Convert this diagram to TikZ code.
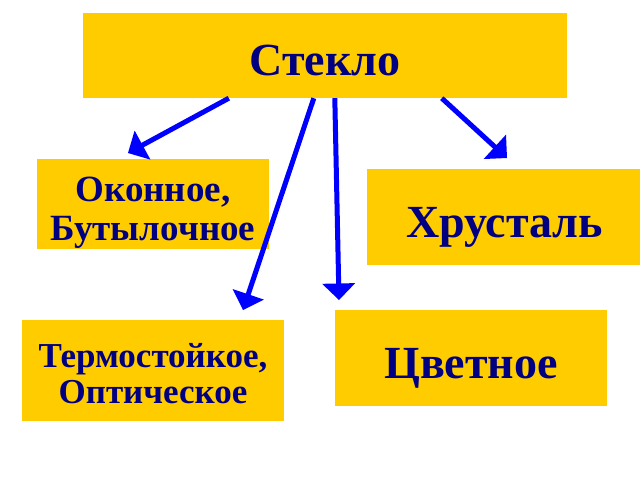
\documentclass[tikz,border=0pt]{standalone}
\usepackage{fontspec}
\setmainfont{Liberation Serif}
\usetikzlibrary{arrows}
\definecolor{gold}{RGB}{255,204,0}
\definecolor{ink}{RGB}{0,0,128}

\begin{document}
\begin{tikzpicture}[x=1pt,y=-1pt,
  box/.style={fill=gold,text=ink,align=center,inner sep=0pt,text depth=0pt},
  big/.style={font=\bfseries\fontsize{46}{50}\selectfont,text height=40pt},
  arr/.style={-triangle 90,blue,line width=5pt}]
\useasboundingbox[fill=white] (0,0) rectangle (640,480);
\node[box,big,minimum width=484pt,minimum height=85pt] (glass) at (325,55.5) {Стекло};
\node[box,font=\bfseries\fontsize{37}{39}\selectfont,text height=72pt,minimum width=232pt,minimum height=90pt] (window) at (153,204) {Оконное,\\Бутылочное};
\node[box,big,minimum width=275pt,minimum height=96pt] (crystal) at (504.5,217) {Хрусталь};
\node[box,font=\bfseries\fontsize{35}{36}\selectfont,text height=65pt,minimum width=262pt,minimum height=101pt] (heat) at (153,370.5) {Термостойкое,\\Оптическое};
\node[box,big,minimum width=272pt,minimum height=96pt] (colour) at (471,358) {Цветное};
\coordinate (tipwin) at (128,153);
\coordinate (tipheat) at (243,310);
\coordinate (tipcol) at (339,300);
\coordinate (tipcry) at (507,158);
\draw[arr] ([xshift=146pt]glass.south west) -- (tipwin);
\draw[arr] ([xshift=231pt]glass.south west) -- (tipheat);
\draw[arr] ([xshift=252pt]glass.south west) -- (tipcol);
\draw[arr] ([xshift=359pt]glass.south west) -- (tipcry);
\end{tikzpicture}
\end{document}
